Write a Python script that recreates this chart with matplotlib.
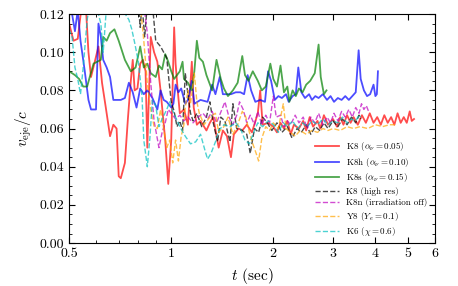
import matplotlib
matplotlib.use('Agg')
import matplotlib.pyplot as plt
from matplotlib.ticker import FixedLocator, NullFormatter, MultipleLocator, FormatStrFormatter

plt.rcParams['font.family'] = 'serif'
plt.rcParams['font.serif'] = ['cmr10', 'DejaVu Serif']
plt.rcParams['mathtext.fontset'] = 'cm'
plt.rcParams['axes.unicode_minus'] = False

# K8 (alpha_nu = 0.05)
t_k8 = [0.50, 0.515, 0.53, 0.545, 0.56, 0.57, 0.58, 0.595, 0.61, 0.625, 0.64, 0.66, 0.675, 0.69, 0.70, 0.71,
        0.73, 0.745, 0.76, 0.77, 0.78, 0.795, 0.81, 0.825, 0.84, 0.85, 0.87, 0.89, 0.91, 0.93, 0.96, 0.98,
        1.00, 1.02, 1.03, 1.045, 1.06, 1.09, 1.12, 1.15, 1.165, 1.19, 1.22, 1.27, 1.30, 1.33, 1.38, 1.42,
        1.46, 1.50, 1.53, 1.58, 1.62, 1.67, 1.73, 1.80, 1.83, 1.86, 1.93, 2.0, 2.05, 2.1, 2.15, 2.2, 2.25,
        2.3, 2.38, 2.45, 2.5, 2.56, 2.62, 2.7, 2.75, 2.82, 2.9, 3.0, 3.08, 3.15, 3.22, 3.3, 3.38, 3.45, 3.55,
        3.65, 3.75, 3.85, 3.95, 4.05, 4.15, 4.25, 4.35, 4.45, 4.55, 4.65, 4.75, 4.85, 4.95, 5.05, 5.12, 5.2]
v_k8 = [0.115, 0.106, 0.107, 0.125, 0.124, 0.100, 0.087, 0.095, 0.103, 0.084, 0.072, 0.056, 0.062, 0.060, 0.035, 0.034,
        0.042, 0.065, 0.085, 0.096, 0.080, 0.081, 0.094, 0.096, 0.090, 0.050, 0.108, 0.100, 0.095, 0.080, 0.054, 0.031,
        0.054, 0.113, 0.094, 0.080, 0.068, 0.070, 0.062, 0.095, 0.071, 0.062, 0.064, 0.059, 0.063, 0.066, 0.050, 0.059,
        0.056, 0.045, 0.057, 0.060, 0.059, 0.062, 0.058, 0.068, 0.080, 0.062, 0.063, 0.061, 0.058, 0.063, 0.060, 0.064, 0.057,
        0.062, 0.060, 0.064, 0.059, 0.066, 0.061, 0.064, 0.060, 0.067, 0.062, 0.065, 0.061, 0.066, 0.062, 0.067, 0.063, 0.066, 0.062,
        0.067, 0.063, 0.068, 0.063, 0.066, 0.062, 0.067, 0.063, 0.066, 0.062, 0.068, 0.063, 0.066, 0.063, 0.069, 0.064, 0.065]

# K8h (alpha_nu = 0.10)
t_k8h = [0.50, 0.51, 0.52, 0.53, 0.54, 0.555, 0.57, 0.58, 0.60, 0.61, 0.62, 0.63, 0.645, 0.66, 0.675, 0.71,
         0.73, 0.75, 0.77, 0.79, 0.81, 0.83, 0.85, 0.88, 0.91, 0.93, 0.95, 0.97, 1.0, 1.015, 1.03, 1.05, 1.07,
         1.10, 1.12, 1.15, 1.17, 1.22, 1.28, 1.32, 1.35, 1.39, 1.42, 1.5, 1.55, 1.6, 1.64, 1.68, 1.72, 1.77,
         1.83, 1.89, 1.93, 1.97, 2.02, 2.07, 2.12, 2.18, 2.22, 2.28, 2.33, 2.37, 2.42, 2.48, 2.55, 2.6, 2.66,
         2.72, 2.8, 2.88, 2.95, 3.02, 3.1, 3.18, 3.26, 3.34, 3.42, 3.5, 3.57, 3.62, 3.70, 3.78, 3.86, 3.95,
         4.0, 4.04, 4.07]
v_k8h = [0.125, 0.120, 0.111, 0.122, 0.106, 0.091, 0.075, 0.070, 0.070, 0.115, 0.108, 0.096, 0.092, 0.087, 0.075, 0.075,
         0.076, 0.084, 0.079, 0.071, 0.081, 0.078, 0.080, 0.076, 0.070, 0.080, 0.075, 0.074, 0.071, 0.073, 0.083, 0.079, 0.081,
         0.073, 0.075, 0.085, 0.073, 0.075, 0.074, 0.083, 0.078, 0.087, 0.078, 0.078, 0.079, 0.079, 0.078, 0.088, 0.080, 0.074,
         0.075, 0.074, 0.090, 0.085, 0.075, 0.077, 0.076, 0.078, 0.074, 0.077, 0.078, 0.092, 0.079, 0.076, 0.078, 0.075, 0.077,
         0.076, 0.078, 0.075, 0.077, 0.074, 0.076, 0.075, 0.077, 0.075, 0.077, 0.079, 0.101, 0.086, 0.080, 0.077, 0.078, 0.083,
         0.077, 0.078, 0.090]

# K8s (alpha_nu = 0.15)
t_k8s = [0.50, 0.52, 0.535, 0.55, 0.565, 0.575, 0.59, 0.62, 0.63, 0.645, 0.66, 0.68, 0.70, 0.73, 0.76, 0.785,
         0.81, 0.83, 0.85, 0.87, 0.90, 0.92, 0.94, 0.96, 0.98, 1.0, 1.02, 1.04, 1.06, 1.08, 1.09, 1.12, 1.15,
         1.17, 1.19, 1.21, 1.24, 1.27, 1.32, 1.36, 1.40, 1.43, 1.47, 1.52, 1.57, 1.62, 1.65, 1.69, 1.74, 1.8,
         1.85, 1.9, 1.96, 2.0, 2.05, 2.1, 2.15, 2.2, 2.23, 2.28, 2.33, 2.38, 2.44, 2.5, 2.57, 2.65, 2.72, 2.76,
         2.82, 2.87]
v_k8s = [0.090, 0.088, 0.086, 0.082, 0.082, 0.087, 0.094, 0.096, 0.108, 0.106, 0.110, 0.112, 0.106, 0.096, 0.090, 0.092,
         0.103, 0.092, 0.094, 0.089, 0.087, 0.093, 0.091, 0.099, 0.095, 0.090, 0.086, 0.088, 0.090, 0.095, 0.086, 0.084, 0.080,
         0.090, 0.106, 0.097, 0.095, 0.088, 0.080, 0.096, 0.086, 0.081, 0.077, 0.080, 0.084, 0.098, 0.088, 0.085, 0.090, 0.085,
         0.080, 0.082, 0.094, 0.086, 0.082, 0.093, 0.079, 0.082, 0.074, 0.080, 0.077, 0.081, 0.079, 0.083, 0.085, 0.089, 0.104, 0.087,
         0.078, 0.080]

# K8 (high res)
t_hr = [0.80, 0.81, 0.82, 0.835, 0.85, 0.88, 0.90, 0.93, 0.97, 0.985, 1.0, 1.02, 1.04, 1.06, 1.08, 1.10, 1.12,
        1.14, 1.16, 1.19, 1.23, 1.27, 1.3, 1.33, 1.37, 1.40, 1.44, 1.49, 1.52, 1.56, 1.62, 1.67, 1.71, 1.76,
        1.81, 1.86, 1.92, 1.98, 2.05, 2.12, 2.2, 2.27, 2.35, 2.42, 2.5, 2.58, 2.66, 2.74, 2.82, 2.9, 3.0, 3.1,
        3.2, 3.3, 3.4, 3.5, 3.58, 3.62]
v_hr = [0.125, 0.113, 0.125, 0.108, 0.125, 0.125, 0.106, 0.103, 0.097, 0.085, 0.074, 0.069, 0.061, 0.064, 0.059, 0.089, 0.078,
        0.068, 0.064, 0.068, 0.061, 0.066, 0.074, 0.063, 0.053, 0.066, 0.064, 0.053, 0.073, 0.060, 0.059, 0.057, 0.047, 0.060,
        0.058, 0.066, 0.063, 0.059, 0.063, 0.058, 0.061, 0.055, 0.060, 0.058, 0.062, 0.057, 0.061, 0.059, 0.063, 0.060, 0.064, 0.061,
        0.065, 0.062, 0.066, 0.063, 0.067, 0.065]

# K8n (irradiation off)
t_k8n = [0.83, 0.85, 0.87, 0.89, 0.92, 0.94, 0.96, 0.98, 1.0, 1.03, 1.06, 1.09, 1.12, 1.16, 1.2, 1.24, 1.28,
         1.32, 1.36, 1.44, 1.48, 1.52, 1.56, 1.59, 1.63, 1.67, 1.71, 1.76, 1.8, 1.85, 1.9, 1.95, 2.0, 2.04,
         2.1, 2.15, 2.2, 2.25, 2.32, 2.38, 2.45, 2.52, 2.58, 2.65, 2.72, 2.8, 2.88, 2.95, 3.02, 3.1, 3.18,
         3.26, 3.34, 3.42, 3.5, 3.58, 3.64, 3.7, 3.76, 3.82]
v_k8n = [0.125, 0.110, 0.084, 0.064, 0.050, 0.058, 0.063, 0.070, 0.068, 0.065, 0.067, 0.064, 0.066, 0.063, 0.066, 0.068, 0.065,
         0.069, 0.063, 0.074, 0.066, 0.062, 0.067, 0.074, 0.070, 0.063, 0.067, 0.062, 0.069, 0.062, 0.067, 0.063, 0.077, 0.066,
         0.067, 0.061, 0.064, 0.062, 0.067, 0.063, 0.066, 0.060, 0.066, 0.063, 0.068, 0.062, 0.066, 0.063, 0.068, 0.064, 0.069,
         0.066, 0.070, 0.066, 0.071, 0.068, 0.073, 0.070, 0.072, 0.069]

# Y8 (Ye = 0.1)
t_y8 = [0.81, 0.83, 0.85, 0.87, 0.89, 0.91, 0.93, 0.95, 0.97, 0.99, 1.01, 1.03, 1.05, 1.07, 1.09, 1.10, 1.12,
        1.14, 1.17, 1.19, 1.21, 1.25, 1.3, 1.35, 1.38, 1.43, 1.47, 1.52, 1.57, 1.62, 1.66, 1.7, 1.74, 1.78,
        1.81, 1.85, 1.9, 1.95, 2.0, 2.07, 2.14, 2.18, 2.25, 2.32, 2.4, 2.5, 2.6, 2.7, 2.8, 2.9, 3.0, 3.15,
        3.3, 3.45, 3.6, 3.8, 4.0, 4.2, 4.4, 4.6]
v_y8 = [0.125, 0.106, 0.084, 0.070, 0.061, 0.060, 0.070, 0.060, 0.050, 0.054, 0.042, 0.054, 0.043, 0.056, 0.062, 0.071, 0.080,
        0.073, 0.089, 0.074, 0.068, 0.062, 0.066, 0.068, 0.058, 0.061, 0.066, 0.057, 0.062, 0.069, 0.066, 0.058, 0.052, 0.047,
        0.043, 0.055, 0.061, 0.059, 0.063, 0.060, 0.073, 0.060, 0.058, 0.056, 0.059, 0.057, 0.059, 0.058, 0.060, 0.059, 0.060, 0.059,
        0.061, 0.060, 0.061, 0.060, 0.062, 0.061, 0.062, 0.062]

# K6 (chi = 0.6)
t_k6 = [0.50, 0.51, 0.52, 0.53, 0.54, 0.55, 0.565, 0.575, 0.60, 0.62, 0.63, 0.645, 0.70, 0.72, 0.75, 0.765,
        0.78, 0.80, 0.82, 0.83, 0.85, 0.865, 0.88, 0.90, 0.92, 0.94, 0.97, 0.99, 1.0, 1.03, 1.06, 1.1, 1.14,
        1.18, 1.22, 1.26, 1.28, 1.31, 1.35, 1.38, 1.43, 1.49, 1.55, 1.6, 1.65, 1.70, 1.75, 1.8, 1.86, 1.93,
        2.0, 2.07, 2.14, 2.2, 2.28, 2.36, 2.44, 2.52, 2.6, 2.7, 2.8, 2.9, 3.0, 3.1, 3.2, 3.3, 3.4, 3.5, 3.58, 3.62]
v_k6 = [0.112, 0.108, 0.092, 0.086, 0.078, 0.092, 0.117, 0.125, 0.125, 0.115, 0.100, 0.125, 0.125, 0.122, 0.117, 0.112,
        0.105, 0.095, 0.077, 0.054, 0.040, 0.055, 0.075, 0.072, 0.061, 0.065, 0.070, 0.074, 0.071, 0.066, 0.061, 0.056, 0.052,
        0.053, 0.057, 0.048, 0.044, 0.047, 0.053, 0.059, 0.062, 0.061, 0.063, 0.060, 0.054, 0.052, 0.058, 0.063, 0.061, 0.064,
        0.062, 0.058, 0.063, 0.061, 0.064, 0.060, 0.063, 0.061, 0.064, 0.062, 0.065, 0.062, 0.064, 0.063, 0.066, 0.063, 0.065, 0.064, 0.067, 0.066]

xticks = [0.5, 1, 2, 3, 4, 5, 6]
xticklabels = ['0.5', '1', '2', '3', '4', '5', '6']

fig = plt.figure(figsize=(4.58, 2.86), dpi=100)
ax = fig.add_axes([0.151, 0.150, 0.799, 0.801])

lw = 1.3
dlw = 1.0
ax.plot(t_k8, v_k8, color='red', lw=lw, alpha=0.7, label=r'K8 ($\alpha_\nu = 0.05$)')
ax.plot(t_k8h, v_k8h, color='blue', lw=lw, alpha=0.7, label=r'K8h ($\alpha_\nu = 0.10$)')
ax.plot(t_k8s, v_k8s, color='green', lw=lw, alpha=0.7, label=r'K8s ($\alpha_\nu = 0.15$)')
ax.plot(t_hr, v_hr, color='k', ls='--', lw=dlw, alpha=0.7, label='K8 (high res)')
ax.plot(t_k8n, v_k8n, color='m', ls='--', lw=dlw, alpha=0.7, label='K8n (irradiation off)')
ax.plot(t_y8, v_y8, color='orange', ls='--', lw=dlw, alpha=0.7, label=r'Y8 ($Y_e = 0.1$)')
ax.plot(t_k6, v_k6, color='c', ls='--', lw=dlw, alpha=0.7, label=r'K6 ($\chi = 0.6$)')

ax.set_xscale('log')
ax.set_xlim(0.5, 6)
ax.set_ylim(0, 0.12)
ax.xaxis.set_major_locator(FixedLocator(xticks))
ax.set_xticklabels(xticklabels)
ax.xaxis.set_minor_formatter(NullFormatter())
ax.yaxis.set_major_locator(MultipleLocator(0.02))
ax.yaxis.set_minor_locator(MultipleLocator(0.005))
ax.yaxis.set_major_formatter(FormatStrFormatter('%.2f'))
ax.tick_params(which='both', direction='in', top=True, right=True, labelsize=10)
ax.tick_params(which='major', length=4)
ax.tick_params(which='minor', length=2)

ax.set_xlabel(r'$t$ (sec)', fontsize=11)
ax.set_ylabel(r'$v_{\rm eje}/c$', fontsize=11)

ax.legend(loc='lower right', bbox_to_anchor=(1.0, -0.015), frameon=False, fontsize=6.5,
          handlelength=2.6, labelspacing=0.28)

fig.savefig('out.png', dpi=100)
